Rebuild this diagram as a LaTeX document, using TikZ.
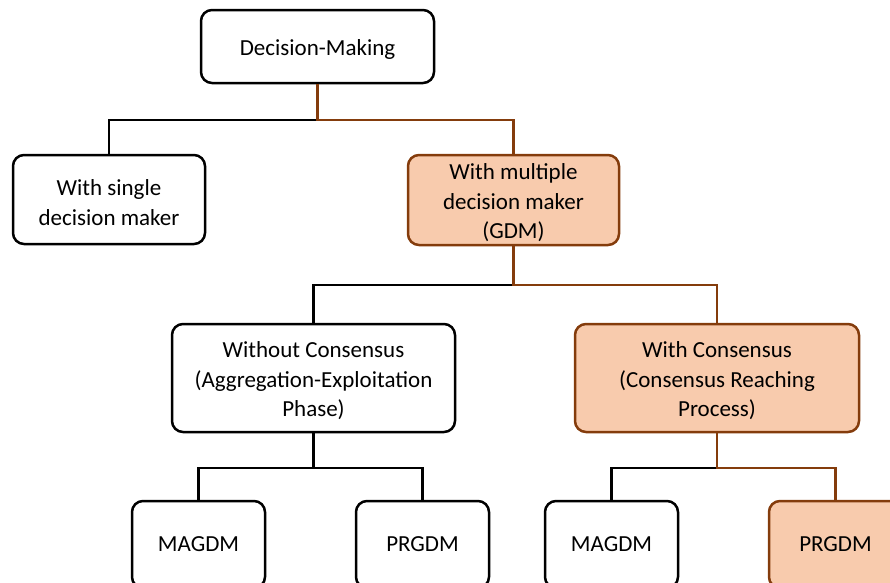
\documentclass[tikz,border=0pt]{standalone}
\usepackage{fontspec}
\setmainfont{Carlito}
\definecolor{brn}{HTML}{843C0C}
\definecolor{pch}{HTML}{F8CBAD}
\begin{document}
\begin{tikzpicture}[x=1pt,y=-1pt,
  box/.style={draw=black, line width=2.5pt, rounded corners=11pt, fill=white, inner sep=0pt},
  hbox/.style={box, draw=brn, fill=pch},
  txt/.style={align=center, font=\fontsize{23}{29.5}\selectfont, inner sep=0pt, yshift=-3pt},
  blk/.style={line width=2.2pt, draw=black},
  brl/.style={line width=2.2pt, draw=brn}]
\useasboundingbox (0,0) rectangle (890,582);
\clip (0,0) rectangle (890,582);
\node[box, minimum width=233pt, minimum height=73pt] (dm) at (317.5,46.5) {};
\node[txt] (dmt) at (dm.center) {Decision-Making};
\node[box, minimum width=192pt, minimum height=89pt] (single) at (109,199.5) {};
\node[txt] (singlet) at (single.center) {With single\\decision maker};
\node[hbox, minimum width=211pt, minimum height=90pt] (multi) at (513.5,200) {};
\node[txt] (multit) at (multi.center) {With multiple\\decision maker\\(GDM)};
\node[box, minimum width=283pt, minimum height=108pt] (wo) at (313.5,378) {};
\node[txt] (wot) at (wo.center) {Without Consensus\\(Aggregation-Exploitation\\Phase)};
\node[hbox, minimum width=284pt, minimum height=108pt] (wc) at (717,378) {};
\node[txt] (wct) at (wc.center) {With Consensus\\(Consensus Reaching\\Process)};
\node[box, minimum width=133pt, minimum height=87pt] (mag1) at (198.5,544.5) {};
\node[txt] (mag1t) at (198.5,541) {MAGDM};
\node[box, minimum width=133pt, minimum height=87pt] (prg1) at (422.5,544.5) {};
\node[txt] (prg1t) at (422.5,541) {PRGDM};
\node[box, minimum width=133pt, minimum height=87pt] (mag2) at (611.5,544.5) {};
\node[txt] (mag2t) at (611.5,541) {MAGDM};
\node[hbox, minimum width=133pt, minimum height=87pt] (prg2) at (835.5,544.5) {};
\node[txt] (prg2t) at (835.5,541) {PRGDM};
\coordinate (j1) at (317.5,120);
\coordinate (j2) at (513.5,285);
\coordinate (j3) at (313.5,468);
\coordinate (j4) at (717,468);
\draw[blk] (j1) -| (single.north);
\draw[brl] (dm.south) -- (j1) -| (multi.north);
\draw[blk] (j2) -| (wo.north);
\draw[brl] (multi.south) -- (j2) -| (wc.north);
\draw[blk] (j3) -| (mag1.north);
\draw[blk] (j3) -| (prg1.north);
\draw[blk, line width=3pt] (wo.south) -- (j3);
\draw[blk] (j4) -| (mag2.north);
\draw[brl] (wc.south) -- (j4) -| (prg2.north);
\end{tikzpicture}
\end{document}
